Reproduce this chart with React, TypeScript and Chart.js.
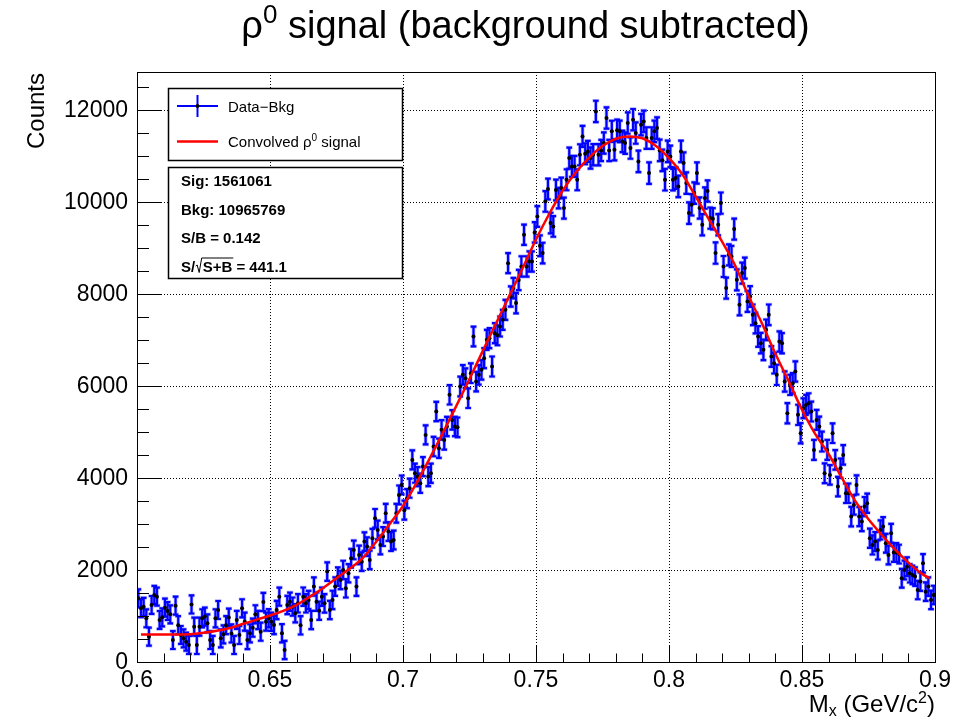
import React, { useEffect, useRef } from "react";
import { Chart, registerables } from "chart.js";

Chart.register(...registerables);

// ---------- data ----------
const X_MIN = 0.6;
const X_MAX = 0.9;
const Y_MIN = 0;
const Y_MAX = 12820;
const BIN_WIDTH = 0.001;

// background-subtracted counts, 1 MeV bins, 0.600 - 0.650
const countsA = [
  1384, 1167, 1200, 950, 550, 1239, 1457, 1420, 913, 971,
  1181, 1108, 1036, 478, 1224, 800, 587, 514, 442, 370,
  1250, 768, 370, 768, 950, 986, 840, 478, 370, 950,
  1130, 514, 601, 800, 965, 620, 370, 913, 587, 1167,
  877, 478, 623, 746, 1036, 913, 659, 1304, 877, 950,
];
// 0.650 - 0.700
const countsB = [
  876, 804, 1130, 1420, 623, 260, 1239, 1311, 1203, 1058,
  1275, 797, 1420, 1275, 1348, 913, 1638, 1311, 1116, 1420,
  1275, 1964, 1130, 1348, 1638, 1855, 1783, 2000, 1601, 1928,
  2254, 2435, 1638, 2326, 2181, 2616, 2507, 2218, 2689, 3123,
  2870, 2544, 2725, 3232, 2834, 2616, 2652, 3232, 3631, 3848,
];
// 0.700 - 0.750
const countsC = [
  3300, 3550, 3776, 4391, 4102, 4029, 3884, 4246, 4935, 4029,
  4102, 4681, 5442, 4645, 5044, 4826, 5116, 5805, 5261, 5116,
  5100, 5986, 6239, 6167, 5732, 6275, 7073, 6094, 6239, 6348,
  6602, 7000, 7036, 6421, 7145, 7100, 7290, 7435, 7652, 8667,
  7942, 8124, 7798, 8300, 8595, 9283, 8595, 8703, 8703, 9335,
];
// 0.750 - 0.800
const countsD = [
  9681, 9044, 8885, 10008, 10276, 9537, 9465, 10255, 10080, 10298,
  9863, 10479, 10950, 10768, 10768, 10479, 11022, 11421, 11044, 11094,
  10950, 11022, 11964, 11022, 11116, 11276, 11820, 11116, 11530, 11130,
  11552, 11530, 11312, 11276, 11711, 11168, 11783, 11494, 10877, 11675,
  11747, 11385, 10624, 11385, 11530, 11602, 11116, 10900, 10479, 11094,
];
// 0.800 - 0.850
const countsE = [
  10986, 10479, 10515, 10334, 11094, 10841, 10406, 9754, 9935, 10189,
  10624, 9863, 9500, 10080, 10233, 9645, 9630, 8885, 9500, 9971,
  8594, 8124, 8848, 8812, 9406, 8305, 7761, 8450, 8560, 7834,
  7942, 7544, 7363, 7073, 6928, 6783, 7218, 7544, 6638, 6493,
  6239, 6964, 6928, 6094, 5406, 6022, 6058, 6312, 5370, 4971,
];
// 0.850 - 0.900
const countsF = [
  5515, 5587, 5624, 5442, 4609, 5261, 5116, 4790, 4101, 4609,
  4065, 4971, 4391, 3812, 4210, 4500, 3667, 3667, 3159, 3413,
  3848, 3159, 3051, 3377, 3450, 2689, 2544, 2616, 2435, 2870,
  2942, 2580, 2326, 2797, 2381, 2381, 2344, 1819, 2000, 2072,
  1928, 1892, 1856, 1565, 1747, 2145, 1529, 1638, 1348, 1456,
];
// error half-length, one value per 10 bins
const errorsPer10Bins = [
  195, 195, 196, 196, 197, 198, 199, 200, 202, 204,
  207, 210, 213, 217, 221, 225, 228, 231, 233, 234,
  233, 231, 228, 224, 220, 216, 212, 208, 204, 201,
];

// convolved rho0 fit curve
const fitMass = [
  0.6015, 0.605, 0.61, 0.615, 0.62, 0.625, 0.63, 0.635, 0.64, 0.645,
  0.65, 0.655, 0.66, 0.665, 0.67, 0.675, 0.68, 0.685, 0.69, 0.695,
  0.7, 0.705, 0.71, 0.715, 0.72, 0.725, 0.73, 0.735, 0.74, 0.745,
  0.75, 0.755, 0.76, 0.765, 0.77, 0.775, 0.78, 0.785, 0.79, 0.795,
  0.8, 0.805, 0.81, 0.815, 0.82, 0.825, 0.83, 0.835, 0.84, 0.845,
  0.85, 0.855, 0.86, 0.865, 0.87, 0.875, 0.88, 0.885, 0.89, 0.895, 0.898,
];
const fitCounts = [
  600, 600, 600, 600, 605, 635, 680, 740, 830, 920,
  1010, 1110, 1240, 1420, 1610, 1820, 2030, 2270, 2620, 3000,
  3390, 3880, 4420, 4980, 5560, 6150, 6760, 7360, 7960, 8560,
  9180, 9740, 10240, 10640, 10960, 11210, 11370, 11420, 11380, 11220,
  10950, 10600, 10120, 9620, 9130, 8600, 7940, 7350, 6700, 6100,
  5480, 4950, 4520, 4000, 3500, 3100, 2760, 2440, 2160, 1920, 1820,
];

const xTickLabels = ["0.6", "0.65", "0.7", "0.75", "0.8", "0.85", "0.9"];
const yTickLabels = ["0", "2000", "4000", "6000", "8000", "10000", "12000"];
const statLines = ["Sig: 1561061", "Bkg: 10965769", "S/B = 0.142"];
const significanceValue = "441.1";

// ---------- style ----------
const FONT = "'Liberation Sans', Arial, Helvetica, sans-serif";
const BLUE = "#0000ff";
const BLUE_HALO = "rgba(90, 90, 255, 0.45)";
const RED = "#ff0000";

type Part = { t: string; size: number; bold?: boolean; dy?: number };
const fontOf = (p: Part) => `${p.bold ? "bold " : ""}${p.size}px ${FONT}`;
function richWidth(ctx: CanvasRenderingContext2D, parts: Part[]) {
  let w = 0;
  for (const p of parts) {
    ctx.font = fontOf(p);
    w += ctx.measureText(p.t).width;
  }
  return w;
}
function drawRich(
  ctx: CanvasRenderingContext2D,
  parts: Part[],
  x: number,
  y: number,
  align: "left" | "center" | "right"
) {
  const w = richWidth(ctx, parts);
  let cx = align === "left" ? x : align === "center" ? x - w / 2 : x - w;
  ctx.textAlign = "left";
  ctx.textBaseline = "alphabetic";
  for (const p of parts) {
    ctx.font = fontOf(p);
    ctx.fillText(p.t, cx, y + (p.dy || 0));
    cx += ctx.measureText(p.t).width;
  }
}

const allCounts = [...countsA, ...countsB, ...countsC, ...countsD, ...countsE, ...countsF];

function strokeErrorBars(ctx: CanvasRenderingContext2D, xs: any, ys: any, cap: number) {
  ctx.beginPath();
  allCounts.forEach((c, i) => {
    const e = errorsPer10Bins[Math.floor(i / 10)];
    const px = xs.getPixelForValue(X_MIN + (i + 0.5) * BIN_WIDTH);
    const y1 = ys.getPixelForValue(c - e);
    const y2 = ys.getPixelForValue(c + e);
    ctx.moveTo(px, y1);
    ctx.lineTo(px, y2);
    ctx.moveTo(px - cap, y1);
    ctx.lineTo(px + cap, y1);
    ctx.moveTo(px - cap, y2);
    ctx.lineTo(px + cap, y2);
  });
  ctx.stroke();
}

const decorPlugin = {
  id: "rootDecor",
  beforeDatasetsDraw(chart: any) {
    const { ctx, chartArea: a, scales } = chart;
    const xs = scales.x;
    const ys = scales.y;
    ctx.save();
    // grid
    ctx.strokeStyle = "#000";
    ctx.lineWidth = 1;
    ctx.setLineDash([1, 2]);
    for (let k = 1; k < xTickLabels.length - 1; k++) {
      const v = parseFloat(xTickLabels[k]);
      const px = Math.round(xs.getPixelForValue(v)) + 0.5;
      ctx.beginPath();
      ctx.moveTo(px, a.top);
      ctx.lineTo(px, a.bottom);
      ctx.stroke();
    }
    for (let k = 1; k < yTickLabels.length; k++) {
      const v = parseFloat(yTickLabels[k]);
      const py = Math.round(ys.getPixelForValue(v)) + 0.5;
      ctx.beginPath();
      ctx.moveTo(a.left, py);
      ctx.lineTo(a.right, py);
      ctx.stroke();
    }
    ctx.setLineDash([]);
    // error bars
    ctx.beginPath();
    ctx.rect(a.left, a.top, a.right - a.left, a.bottom - a.top);
    ctx.clip();
    ctx.lineCap = "butt";
    ctx.strokeStyle = BLUE_HALO;
    ctx.lineWidth = 3.6;
    strokeErrorBars(ctx, xs, ys, 3.3);
    ctx.strokeStyle = BLUE;
    ctx.lineWidth = 2.2;
    strokeErrorBars(ctx, xs, ys, 2.8);
    ctx.restore();
  },
  afterDatasetsDraw(chart: any) {
    const { ctx, chartArea: a, scales } = chart;
    const xs = scales.x;
    const ys = scales.y;
    ctx.save();
    ctx.fillStyle = "#000";
    ctx.strokeStyle = "#000";
    ctx.lineWidth = 1;
    // frame
    ctx.strokeRect(Math.round(a.left) + 0.5, Math.round(a.top) + 0.5, Math.round(a.right - a.left), Math.round(a.bottom - a.top));
    // x ticks
    ctx.beginPath();
    for (let k = 0; k <= 30; k++) {
      const v = X_MIN + k * 0.01;
      const px = Math.round(xs.getPixelForValue(v)) + 0.5;
      const len = k % 5 === 0 ? 17 : 8.5;
      ctx.moveTo(px, a.bottom);
      ctx.lineTo(px, a.bottom - len);
    }
    // y ticks
    for (let k = 0; k * 500 <= Y_MAX; k++) {
      const v = k * 500;
      const py = Math.round(ys.getPixelForValue(v)) + 0.5;
      const len = k % 4 === 0 ? 24 : 12;
      ctx.moveTo(a.left, py);
      ctx.lineTo(a.left + len, py);
    }
    ctx.stroke();
    // tick labels
    ctx.font = `23px ${FONT}`;
    ctx.textAlign = "center";
    ctx.textBaseline = "alphabetic";
    xTickLabels.forEach((t) => {
      ctx.fillText(t, xs.getPixelForValue(parseFloat(t)), 687);
    });
    ctx.textAlign = "right";
    ctx.textBaseline = "middle";
    yTickLabels.forEach((t) => {
      ctx.fillText(t, a.left - 9, ys.getPixelForValue(parseFloat(t)) + 1);
    });
    // axis titles
    ctx.save();
    ctx.translate(44, a.top + 1);
    ctx.rotate(-Math.PI / 2);
    ctx.font = `24px ${FONT}`;
    ctx.textAlign = "right";
    ctx.textBaseline = "alphabetic";
    ctx.fillText("Counts", 0, 0);
    ctx.restore();
    drawRich(
      ctx,
      [
        { t: "M", size: 24 },
        { t: "x", size: 16, dy: 4 },
        { t: " (GeV/c", size: 24 },
        { t: "2", size: 16, dy: -9 },
        { t: ")", size: 24 },
      ],
      a.right,
      712,
      "right"
    );
    // title
    drawRich(
      ctx,
      [
        { t: "ρ", size: 38 },
        { t: "0", size: 26, dy: -15 },
        { t: " signal (background subtracted)", size: 38 },
      ],
      525.5,
      38,
      "center"
    );
    // legend box 1
    ctx.fillStyle = "#fff";
    ctx.fillRect(168, 88, 235, 73);
    ctx.lineWidth = 1.5;
    ctx.strokeRect(168.5, 88.5, 234, 72);
    ctx.lineWidth = 2;
    ctx.strokeStyle = BLUE;
    ctx.beginPath();
    ctx.moveTo(177, 106);
    ctx.lineTo(218, 106);
    ctx.moveTo(197.5, 95);
    ctx.lineTo(197.5, 117);
    ctx.stroke();
    ctx.fillStyle = "#000";
    ctx.beginPath();
    ctx.arc(197.5, 106, 1.9, 0, Math.PI * 2);
    ctx.fill();
    ctx.strokeStyle = RED;
    ctx.lineWidth = 2.5;
    ctx.beginPath();
    ctx.moveTo(177, 141.5);
    ctx.lineTo(218, 141.5);
    ctx.stroke();
    ctx.fillStyle = "#000";
    drawRich(ctx, [{ t: "Data−Bkg", size: 15 }], 228, 111.5, "left");
    drawRich(
      ctx,
      [
        { t: "Convolved ρ", size: 15 },
        { t: "0", size: 10, dy: -6 },
        { t: " signal", size: 15 },
      ],
      228,
      147,
      "left"
    );
    // legend box 2 (statistics)
    ctx.fillStyle = "#fff";
    ctx.fillRect(168, 167, 235, 112);
    ctx.strokeStyle = "#000";
    ctx.lineWidth = 1.5;
    ctx.strokeRect(168.5, 167.5, 234, 111);
    ctx.fillStyle = "#000";
    const baselines = [185.5, 214.5, 243, 272];
    statLines.forEach((s, i) => {
      drawRich(ctx, [{ t: s, size: 15, bold: true }], 181, baselines[i], "left");
    });
    // S/sqrt(S+B) line
    const y4 = baselines[3];
    let cx = 181;
    ctx.font = `bold 15px ${FONT}`;
    ctx.textAlign = "left";
    ctx.textBaseline = "alphabetic";
    ctx.fillText("S/", cx, y4);
    cx += ctx.measureText("S/").width;
    ctx.lineWidth = 1;
    ctx.beginPath();
    ctx.moveTo(cx + 0.5, y4 - 6);
    ctx.lineTo(cx + 2, y4 - 7);
    ctx.lineTo(cx + 4, y4 + 0.5);
    ctx.lineTo(cx + 6.5, y4 - 14);
    const wSB = ctx.measureText("S+B").width;
    ctx.lineTo(cx + 7.5 + wSB + 1, y4 - 14);
    ctx.stroke();
    cx += 7.5;
    ctx.fillText("S+B", cx, y4);
    cx += wSB;
    ctx.fillText(" = " + significanceValue, cx, y4);
    ctx.restore();
  },
};

export default function App() {
  const ref = useRef<HTMLCanvasElement | null>(null);
  useEffect(() => {
    if (!ref.current) return;
    const points = allCounts.map((c, i) => ({ x: X_MIN + (i + 0.5) * BIN_WIDTH, y: c }));
    const fit = fitMass.map((m, i) => ({ x: m, y: fitCounts[i] }));
    const chart = new Chart(ref.current, {
      type: "scatter",
      data: {
        datasets: [
          {
            type: "line",
            label: "Convolved ρ0 signal",
            data: fit,
            borderColor: RED,
            borderWidth: 2.5,
            pointRadius: 0,
            cubicInterpolationMode: "monotone",
            fill: false,
          } as any,
          {
            label: "Data−Bkg",
            data: points,
            pointRadius: 2,
            pointHoverRadius: 2,
            pointBackgroundColor: "#000",
            pointBorderWidth: 0,
            borderColor: "#000",
          },
        ],
      },
      options: {
        responsive: false,
        animation: false,
        events: [],
        layout: { padding: { left: 137, right: 32, top: 72, bottom: 58 } },
        scales: {
          x: { type: "linear", min: X_MIN, max: X_MAX, display: false },
          y: { type: "linear", min: Y_MIN, max: Y_MAX, display: false },
        },
        plugins: {
          legend: { display: false },
          title: { display: false },
          tooltip: { enabled: false },
        },
      },
      plugins: [decorPlugin],
    });
    return () => chart.destroy();
  }, []);
  return (
    <div style={{ position: "fixed", left: 0, top: 0, width: 967, height: 720, background: "#fff" }}>
      <canvas ref={ref} width={967} height={720} style={{ display: "block" }} />
    </div>
  );
}
